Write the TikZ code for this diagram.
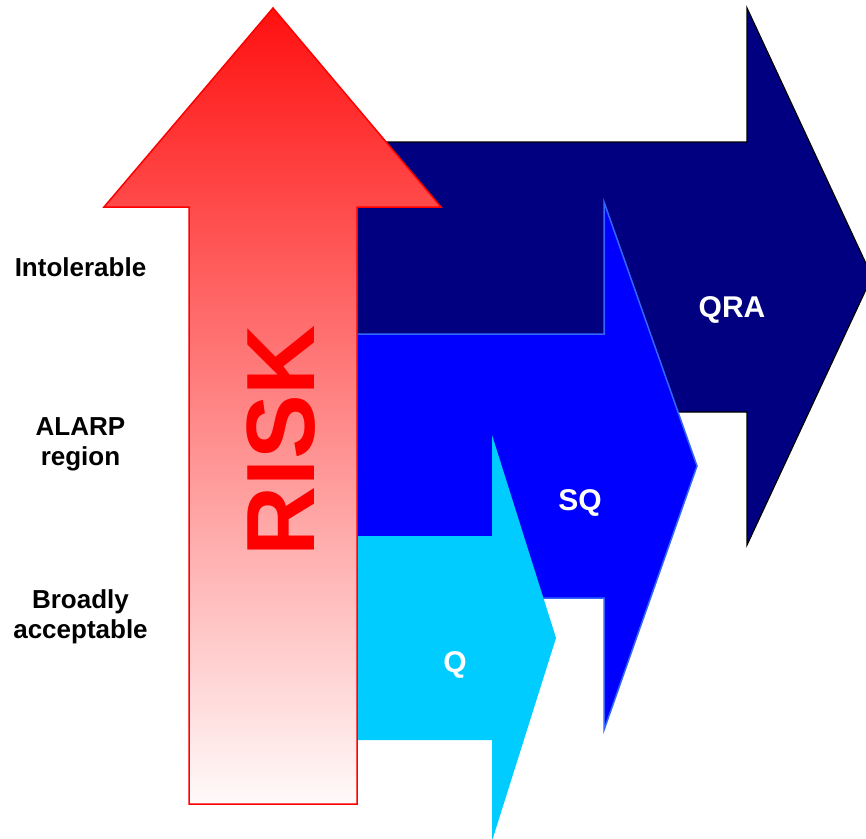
\documentclass[tikz,border=0pt]{standalone}
\usepackage{fontspec}
\setmainfont{Liberation Sans}
\begin{document}
\begin{tikzpicture}[x=1pt,y=-1pt,
  lbl/.style={font=\fontsize{26}{30}\selectfont\bfseries, align=center, inner sep=0pt, text=black},
  arlbl/.style={font=\fontsize{30}{34}\selectfont\bfseries, inner sep=0pt, text=white},
  riskfont/.style={font=\fontsize{97}{100}\selectfont\bfseries, inner sep=0pt, text=red, rotate=90}]
\definecolor{navyc}{HTML}{000080}
\definecolor{bluec}{HTML}{0000FF}
\definecolor{blueedge}{HTML}{3366FF}
\definecolor{cyanc}{HTML}{00CCFF}
\definecolor{redtop}{HTML}{FF1010}
\definecolor{redmid}{HTML}{FFA0A0}
\definecolor{redbot}{HTML}{FFFAFA}
\useasboundingbox (0,0) rectangle (866,838);
\clip (0,0) rectangle (866,838);
\fill[white] (0,0) rectangle (866,838);
% QRA arrow
\draw[fill=navyc, draw=black, line width=1.2pt, line join=miter]
  (300,142) -- (747,142) -- (747,8) -- (872,276.5) -- (747,545) -- (747,412) -- (300,412) -- cycle;
% SQ arrow
\draw[fill=bluec, draw=blueedge, line width=1.5pt]
  (300,334) -- (604,334) -- (604,202) -- (697,466) -- (604,730) -- (604,598) -- (300,598) -- cycle;
% Q arrow
\fill[cyanc]
  (300,536) -- (492,536) -- (492,435) -- (556,638) -- (492,841) -- (492,740) -- (300,740) -- cycle;
% RISK arrow
\shade[top color=redtop, middle color=redmid, bottom color=redbot]
  (273,8) -- (441,207) -- (357,207) -- (357,804) -- (189,804) -- (189,207) -- (104,207) -- cycle;
\draw[red, line width=1.5pt, line join=miter]
  (273,8) -- (441,207) -- (357,207) -- (357,804) -- (189,804) -- (189,207) -- (104,207) -- cycle;
% texts
\node[riskfont] (risk) at (281,441) {RISK};
\node[lbl] (intol) at (80.5,267) {Intolerable};
\node[lbl] (alarp) at (80.5,444) {ALARP\\region};
\node[lbl] (broad) at (80.5,617) {Broadly\\acceptable};
\node[arlbl] (qra) at (732,310) {QRA};
\node[arlbl] (sq) at (580,503) {SQ};
\node[arlbl] (q) at (455,665) {Q};
\end{tikzpicture}
\end{document}
